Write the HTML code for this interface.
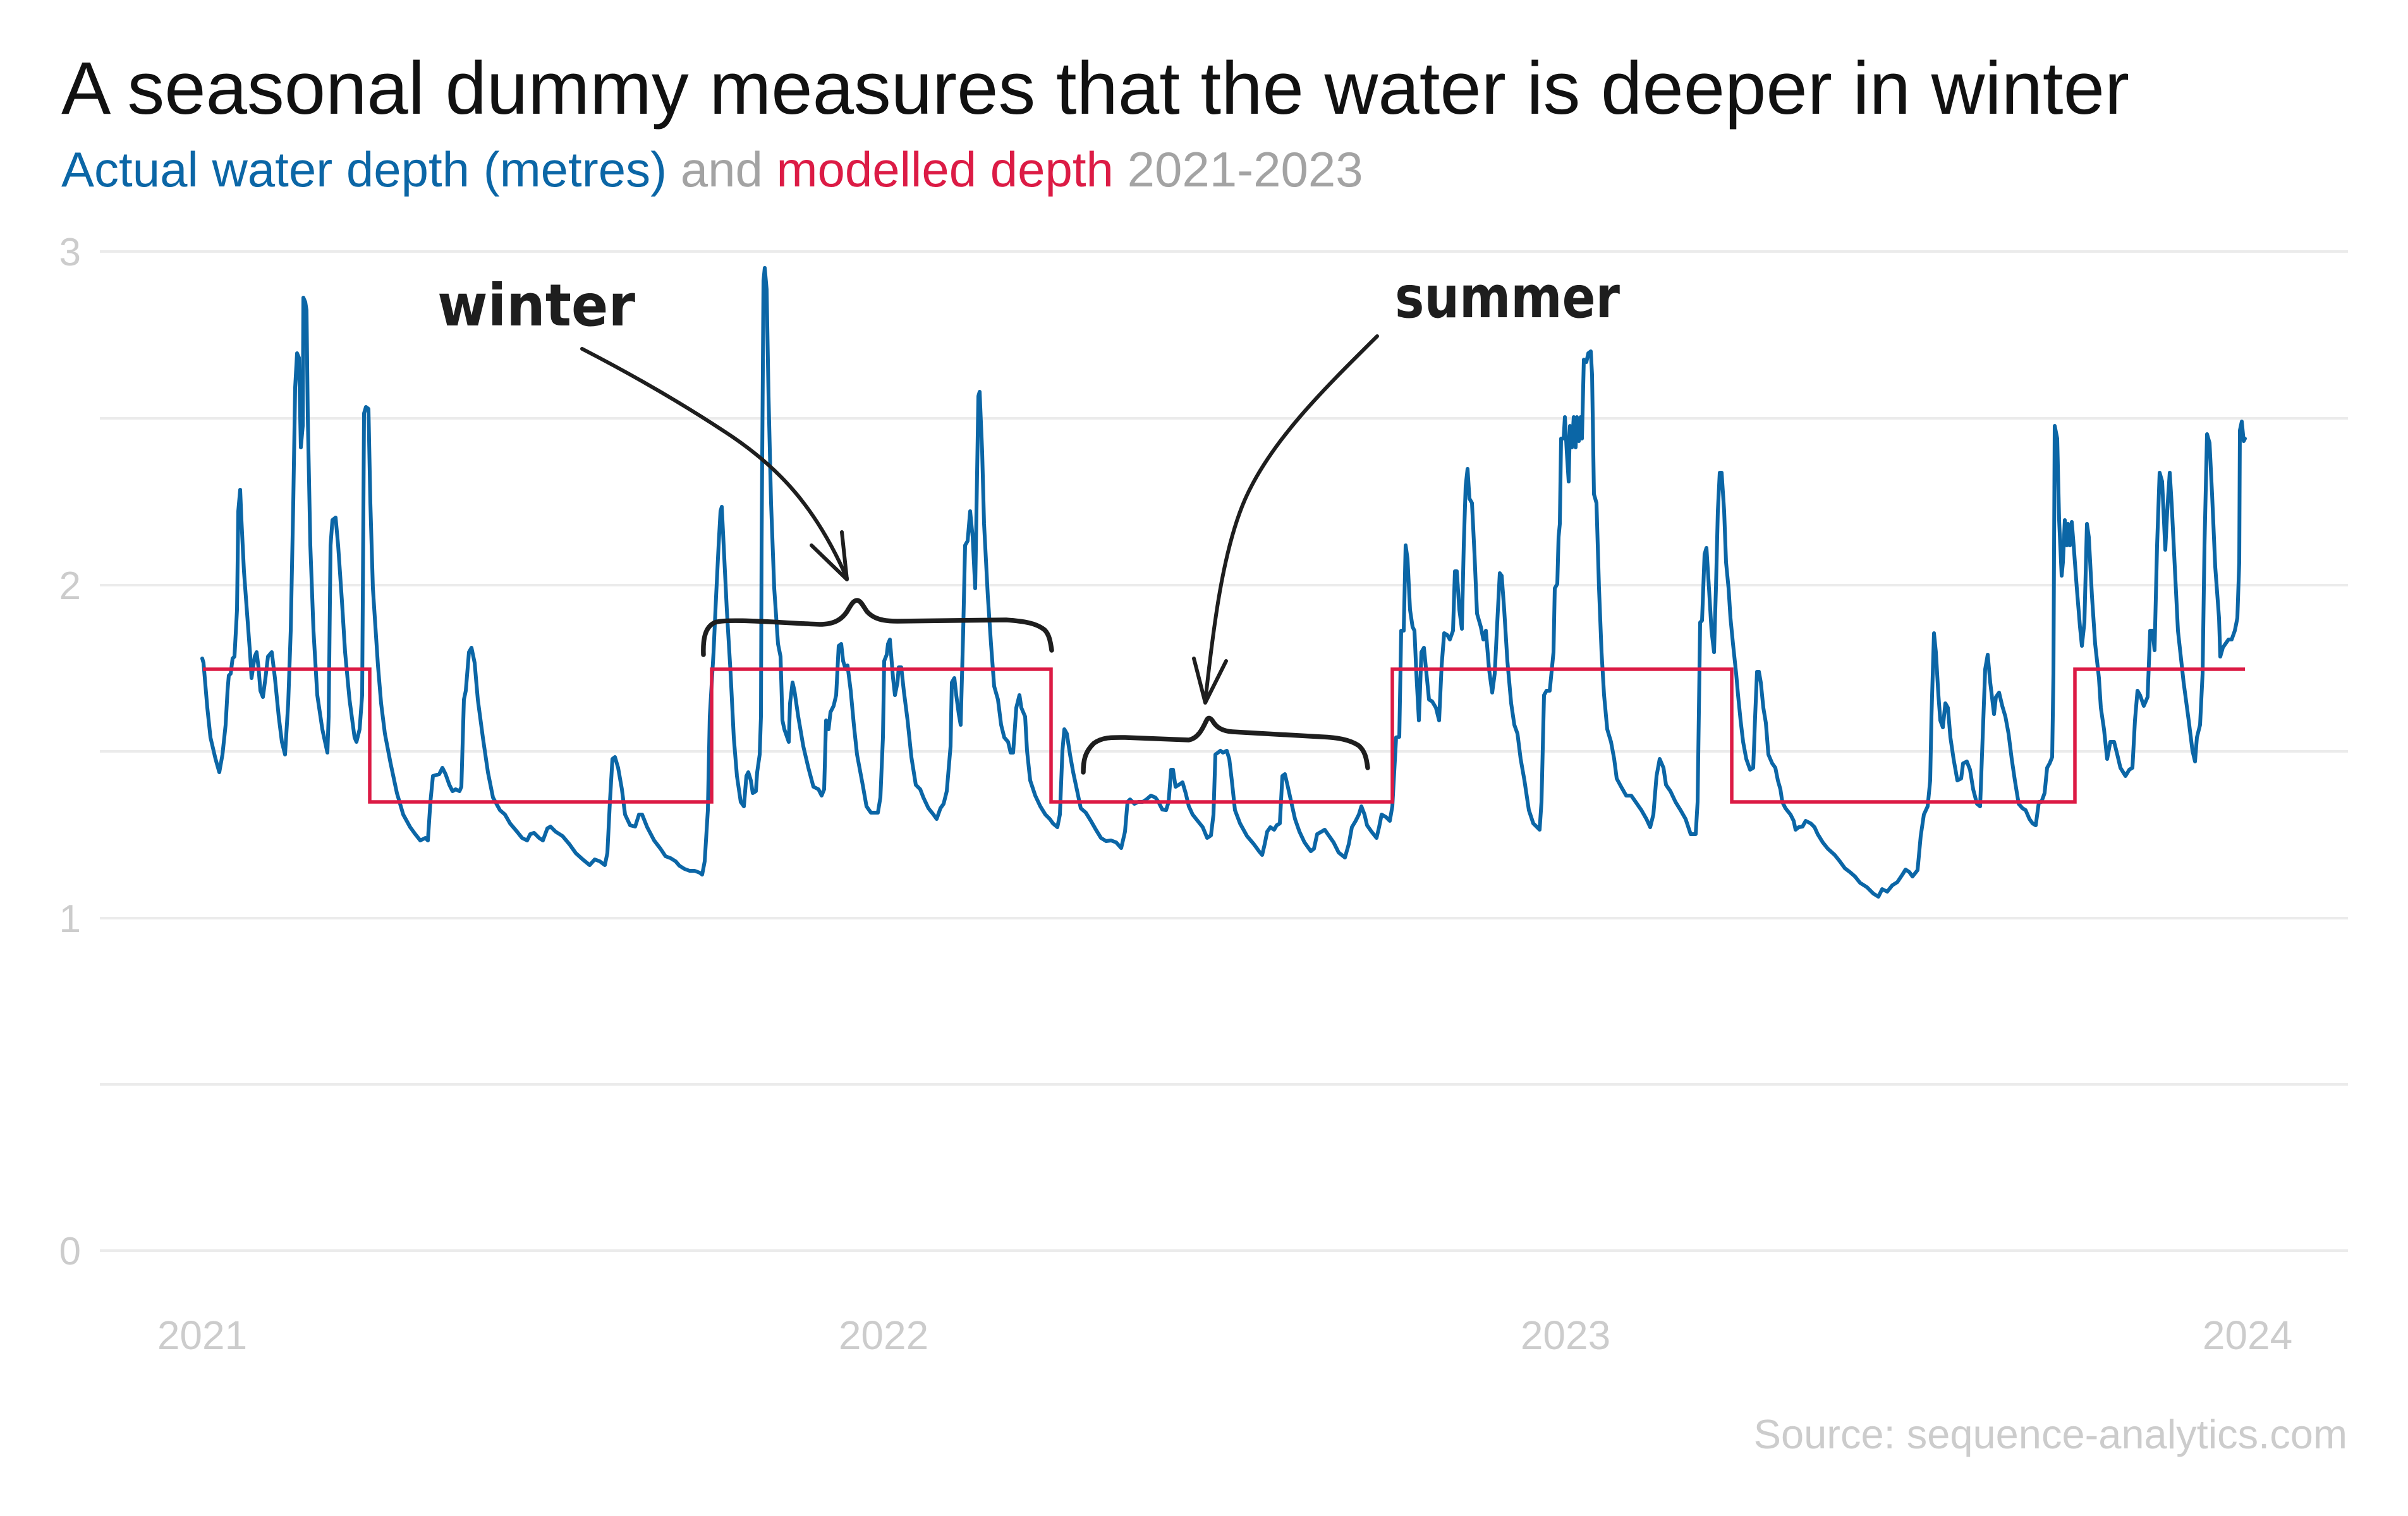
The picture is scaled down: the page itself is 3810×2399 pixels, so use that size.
<!DOCTYPE html>
<html>
<head>
<meta charset="utf-8">
<style>
  html, body { margin: 0; padding: 0; background: #ffffff; }
  body { width: 3810px; height: 2399px; overflow: hidden; }
  svg { display: block; }
  .t { font-family: "Liberation Sans", Arial, Helvetica, sans-serif; }
  .hand { font-family: "DejaVu Sans", "Liberation Sans", sans-serif; font-weight: bold; }
</style>
</head>
<body>
<svg width="3810" height="2399" viewBox="0 0 3810 2399" xmlns="http://www.w3.org/2000/svg">
  <rect x="0" y="0" width="3810" height="2399" fill="#ffffff"/>

  <!-- Title & subtitle -->
  <text class="t" x="97" y="180" font-size="117.5" fill="#111111">A seasonal dummy measures that the water is deeper in winter</text>
  <text class="t" x="97" y="295" font-size="78"><tspan fill="#0b66a6">Actual water depth (metres)</tspan><tspan fill="#a3a3a3"> and </tspan><tspan fill="#dc1b45">modelled depth</tspan><tspan fill="#a3a3a3"> 2021-2023</tspan></text>

  <!-- Gridlines -->
  <g stroke="#ebebeb" stroke-width="4">
    <line x1="158" y1="398" x2="3715" y2="398"/>
    <line x1="158" y1="662" x2="3715" y2="662"/>
    <line x1="158" y1="926" x2="3715" y2="926"/>
    <line x1="158" y1="1189" x2="3715" y2="1189"/>
    <line x1="158" y1="1453" x2="3715" y2="1453"/>
    <line x1="158" y1="1716" x2="3715" y2="1716"/>
    <line x1="158" y1="1979" x2="3715" y2="1979"/>
  </g>

  <!-- Y axis labels -->
  <g class="t" font-size="62" fill="#cccccc" text-anchor="end">
    <text x="128" y="420">3</text>
    <text x="128" y="948">2</text>
    <text x="128" y="1475">1</text>
    <text x="128" y="2001">0</text>
  </g>

  <!-- X axis labels -->
  <g class="t" font-size="64" fill="#cccccc" text-anchor="middle">
    <text x="320" y="2135">2021</text>
    <text x="1398" y="2135">2022</text>
    <text x="2477" y="2135">2023</text>
    <text x="3556" y="2135">2024</text>
  </g>

  <!-- Source -->
  <text class="t" x="3714" y="2292" font-size="65" fill="#cccccc" text-anchor="end">Source: sequence-analytics.com</text>

  <!-- Actual depth (blue) -->
  <polyline fill="none" stroke="#0b66a6" stroke-width="6" stroke-linejoin="round" stroke-linecap="round" points="
320,1042 322,1049 328,1120 333,1167 341,1201 347,1222 352,1194 357,1147 360,1093 362,1069 365,1066 368,1042 371,1039 375,965 377,809 380,775 382,823 386,904 392,985 396,1039 398,1073 403,1039 406,1032 409,1056 412,1093 416,1103 420,1073 424,1039 430,1032 435,1073 441,1134 446,1174 451,1194 456,1113 460,998 464,796 467,613 470,559 473,566 476,708 479,674 480,471 483,478 485,491 487,660 491,863 496,998 502,1100 510,1154 518,1191 520,1134 523,863 526,823 531,819 535,863 541,951 546,1032 553,1107 561,1167 564,1174 569,1154 573,1100 576,654 579,644 583,647 586,796 590,931 598,1053 603,1113 609,1161 618,1208 628,1255 638,1289 649,1309 657,1320 665,1330 673,1326 677,1330 681,1269 685,1228 695,1225 700,1215 705,1225 711,1242 716,1252 721,1249 727,1252 730,1245 734,1107 737,1093 742,1032 746,1025 751,1049 756,1107 764,1167 772,1222 780,1262 791,1282 799,1289 807,1303 818,1316 826,1326 834,1330 839,1320 845,1318 853,1326 859,1330 866,1311 871,1308 879,1316 890,1323 901,1336 911,1350 922,1360 933,1369 941,1360 949,1363 957,1369 961,1350 965,1269 969,1201 973,1198 978,1215 984,1249 989,1289 997,1306 1005,1308 1011,1289 1016,1289 1024,1309 1035,1330 1045,1343 1053,1355 1061,1358 1069,1363 1075,1370 1083,1375 1091,1378 1099,1378 1107,1381 1111,1384
1115,1363 1120,1282 1123,1134 1129,1032 1133,944 1137,863 1140,809 1142,802 1145,863 1150,965 1156,1066 1161,1167 1166,1228 1172,1269 1177,1276 1181,1228 1184,1222 1188,1235 1191,1255 1196,1252 1198,1222 1202,1194 1204,1134 1205,863 1208,444 1210,424 1213,458 1216,627 1220,796 1225,931 1231,1019 1235,1039 1238,1140 1241,1154 1248,1174 1250,1113 1254,1080 1257,1093 1263,1134 1271,1181 1279,1215 1287,1245 1295,1249 1300,1259 1304,1249 1307,1140 1311,1154 1314,1127 1319,1117 1323,1100 1327,1022 1331,1019 1334,1046 1338,1059 1341,1053 1346,1093 1351,1147 1356,1194 1365,1242 1371,1276 1378,1286 1389,1286 1393,1262 1397,1167 1399,1046 1403,1036 1405,1019 1408,1012 1413,1073 1416,1100 1420,1080 1422,1056 1426,1056 1430,1093 1436,1140 1442,1198 1449,1242 1456,1249 1461,1262 1469,1279 1477,1289 1482,1296 1488,1279 1493,1272 1498,1252 1504,1181 1506,1080 1510,1073 1513,1100 1517,1130 1520,1147 1524,998 1527,863 1531,856 1535,809 1539,850 1543,931 1545,809 1548,627 1550,620 1554,715 1557,829 1563,944 1568,1019 1573,1086 1579,1107 1584,1147 1589,1167 1595,1174 1599,1191 1603,1191 1608,1120 1613,1100 1616,1120 1622,1134 1625,1188 1630,1235 1638,1259 1646,1276 1654,1289 1661,1296 1666,1303 1673,1309 1677,1289 1681,1188 1684,1154 1688,1161 1693,1194 1698,1222 1705,1255 1710,1279 1718,1286 1726,1299 1734,1313 1742,1326 1750,1331 1758,1330 1766,1333 1774,1342 1780,1316 1784,1269 1788,1265 1795,1272 1801,1269 1808,1269 1814,1265 1821,1259 1828,1262 1833,1269 1839,1281 1845,1282 1849,1269 1853,1218 1856,1218 1860,1245 1865,1242 1871,1238 1876,1255 1881,1276 1887,1289 1895,1299 1903,1309 1910,1326 1916,1322 1920,1289 1923,1194 1927,1191 1931,1188
1935,1191 1941,1188 1945,1201 1949,1235 1954,1282 1962,1303 1973,1323 1984,1336 1992,1347 1997,1353 2001,1336 2005,1316 2010,1309 2016,1313 2020,1306 2025,1303 2029,1228 2033,1225 2037,1242 2043,1269 2049,1296 2056,1316 2064,1333 2074,1347 2079,1343 2084,1320 2091,1316 2096,1313 2103,1323 2110,1333 2118,1349 2128,1357 2134,1336 2139,1309 2145,1299 2150,1289 2154,1276 2159,1289 2163,1306 2170,1316 2178,1326 2182,1309 2186,1289 2193,1293 2199,1299 2203,1276 2209,1167 2214,1166 2217,998 2221,998 2224,863 2227,884 2231,965 2235,992 2238,998 2241,1066 2245,1140 2249,1032 2253,1025 2257,1066 2261,1107 2266,1110 2272,1120 2277,1140 2281,1053 2285,1002 2290,1005 2294,1012 2299,998 2302,904 2305,904 2309,965 2313,995 2316,863 2319,769 2322,742 2325,789 2329,796 2333,877 2337,971 2343,992 2347,1012 2351,998 2356,1059 2361,1096 2365,1066 2369,985 2373,907 2376,911 2380,965 2385,1046 2391,1113 2396,1147 2401,1161 2406,1201 2412,1235 2419,1282 2426,1303 2436,1313 2439,1269 2443,1100 2447,1093 2452,1093 2458,1032 2460,931 2464,924 2466,850 2468,829 2470,694 2474,694 2476,660 2479,715 2482,762 2484,674 2487,708 2490,660 2493,708 2495,660 2498,698 2501,660 2503,694 2506,569 2510,573 2513,559 2517,556 2519,593 2522,782 2526,796 2530,931 2534,1032 2538,1100 2543,1154 2549,1174 2554,1201 2558,1232 2565,1245 2573,1259 2581,1259 2588,1269 2597,1282 2605,1296 2611,1309 2616,1289 2621,1228 2626,1201 2632,1215 2636,1242 2643,1252 2651,1269 2659,1282 2667,1296 2675,1320 2683,1320 2686,1269 2690,985 2693,982 2697,877 2700,867 2704,931 2708,998 2712,1032 2715,931 2718,809 2721,748 2724,748 2728,809 2731,890 2735,931 2738,978 2742,1019 2747,1066
2750,1100 2754,1140 2758,1174 2763,1201 2769,1218 2774,1215 2777,1134 2780,1063 2783,1063 2786,1080 2790,1120 2794,1144 2798,1194 2804,1208 2809,1215 2813,1235 2817,1249 2820,1269 2825,1279 2833,1289 2838,1299 2841,1313 2846,1309 2852,1308 2857,1299 2865,1303 2871,1309 2876,1320 2884,1333 2892,1343 2903,1353 2911,1363 2919,1374 2927,1380 2935,1387 2943,1397 2954,1404 2964,1414 2972,1419 2978,1407 2986,1411 2994,1401 3002,1396 3010,1384 3015,1376 3021,1380 3026,1387 3034,1377 3039,1323 3044,1289 3050,1276 3054,1235 3056,1134 3060,1002 3063,1032 3067,1100 3070,1140 3074,1151 3078,1113 3082,1120 3086,1167 3091,1201 3097,1235 3103,1232 3106,1208 3112,1205 3117,1218 3122,1249 3128,1272 3133,1276 3137,1167 3141,1059 3145,1036 3149,1080 3155,1130 3158,1103 3163,1096 3168,1117 3173,1134 3178,1161 3183,1201 3188,1235 3194,1272 3200,1279 3205,1282 3211,1296 3216,1303 3221,1306 3226,1269 3230,1269 3235,1255 3239,1215 3243,1208 3247,1198 3249,1066 3251,674 3255,694 3258,823 3262,911 3264,890 3267,823 3270,863 3272,829 3275,863 3278,826 3281,863 3286,931 3291,992 3294,1022 3298,985 3302,829 3305,850 3310,944 3315,1019 3321,1073 3324,1120 3329,1154 3334,1201 3339,1174 3345,1174 3350,1194 3355,1215 3363,1228 3369,1218 3374,1215 3378,1140 3382,1093 3386,1100 3392,1117 3398,1103 3402,998 3406,998 3409,1029 3413,863 3417,748 3421,762 3426,870 3429,809 3433,748 3436,796 3441,897 3446,998 3455,1080 3463,1140 3469,1188 3473,1205 3476,1167 3481,1147 3485,1066 3488,863 3492,687 3496,701 3500,782 3505,897 3511,978 3513,1039 3517,1025 3521,1019 3526,1012 3531,1012 3536,998 3540,978 3543,890 3544,681 3547,667 3550,698 3552,694"/>

  <!-- Modelled depth (red step) -->
  <path d="M321,1059 H585 V1269 H1126 V1059 H1663 V1269 H2203 V1059 H2740 V1269 H3283 V1059 H3552" fill="none" stroke="#dc1b45" stroke-width="5.5" stroke-linejoin="miter"/>

  <!-- Annotations -->
  <g fill="none" stroke="#1e1e1e" stroke-linecap="round" stroke-linejoin="round">
    <!-- winter arrow -->
    <path stroke-width="6" d="M921,552 C1010,598 1090,645 1160,692 C1230,740 1290,800 1340,915"/>
    <polyline stroke-width="6" points="1284,863 1340,917 1332,842"/>
    <!-- winter brace -->
    <path stroke-width="7.5" d="M1113,1036 C1112,1010 1116,992 1131,985 C1150,978 1240,986 1297,988 C1320,988 1332,980 1340,968 C1346,958 1350,950 1356,950 C1362,950 1366,960 1372,968 C1382,979 1396,983 1420,983 L1592,981 C1620,983 1640,986 1653,997 C1660,1004 1662,1015 1664,1029"/>
    <!-- summer arrow -->
    <path stroke-width="6" d="M2179,532 C2090,620 2010,700 1970,790 C1935,870 1920,990 1907,1110"/>
    <polyline stroke-width="6" points="1889,1042 1907,1112 1940,1046"/>
    <!-- summer brace -->
    <path stroke-width="7.5" d="M1714,1222 C1714,1205 1716,1190 1731,1176 C1745,1166 1760,1167 1780,1167 L1881,1171 C1897,1168 1904,1150 1909,1140 C1912,1134 1916,1136 1920,1143 C1926,1152 1935,1157 1950,1158 L2091,1166 C2115,1167 2135,1170 2150,1180 C2160,1189 2162,1200 2164,1215"/>
  </g>
  <text class="hand" x="692" y="515" font-size="92" fill="#1e1e1e" textLength="313" lengthAdjust="spacingAndGlyphs">winter</text>
  <text class="hand" x="2207" y="502" font-size="92" fill="#1e1e1e" textLength="356" lengthAdjust="spacingAndGlyphs">summer</text>
</svg>
</body>
</html>
